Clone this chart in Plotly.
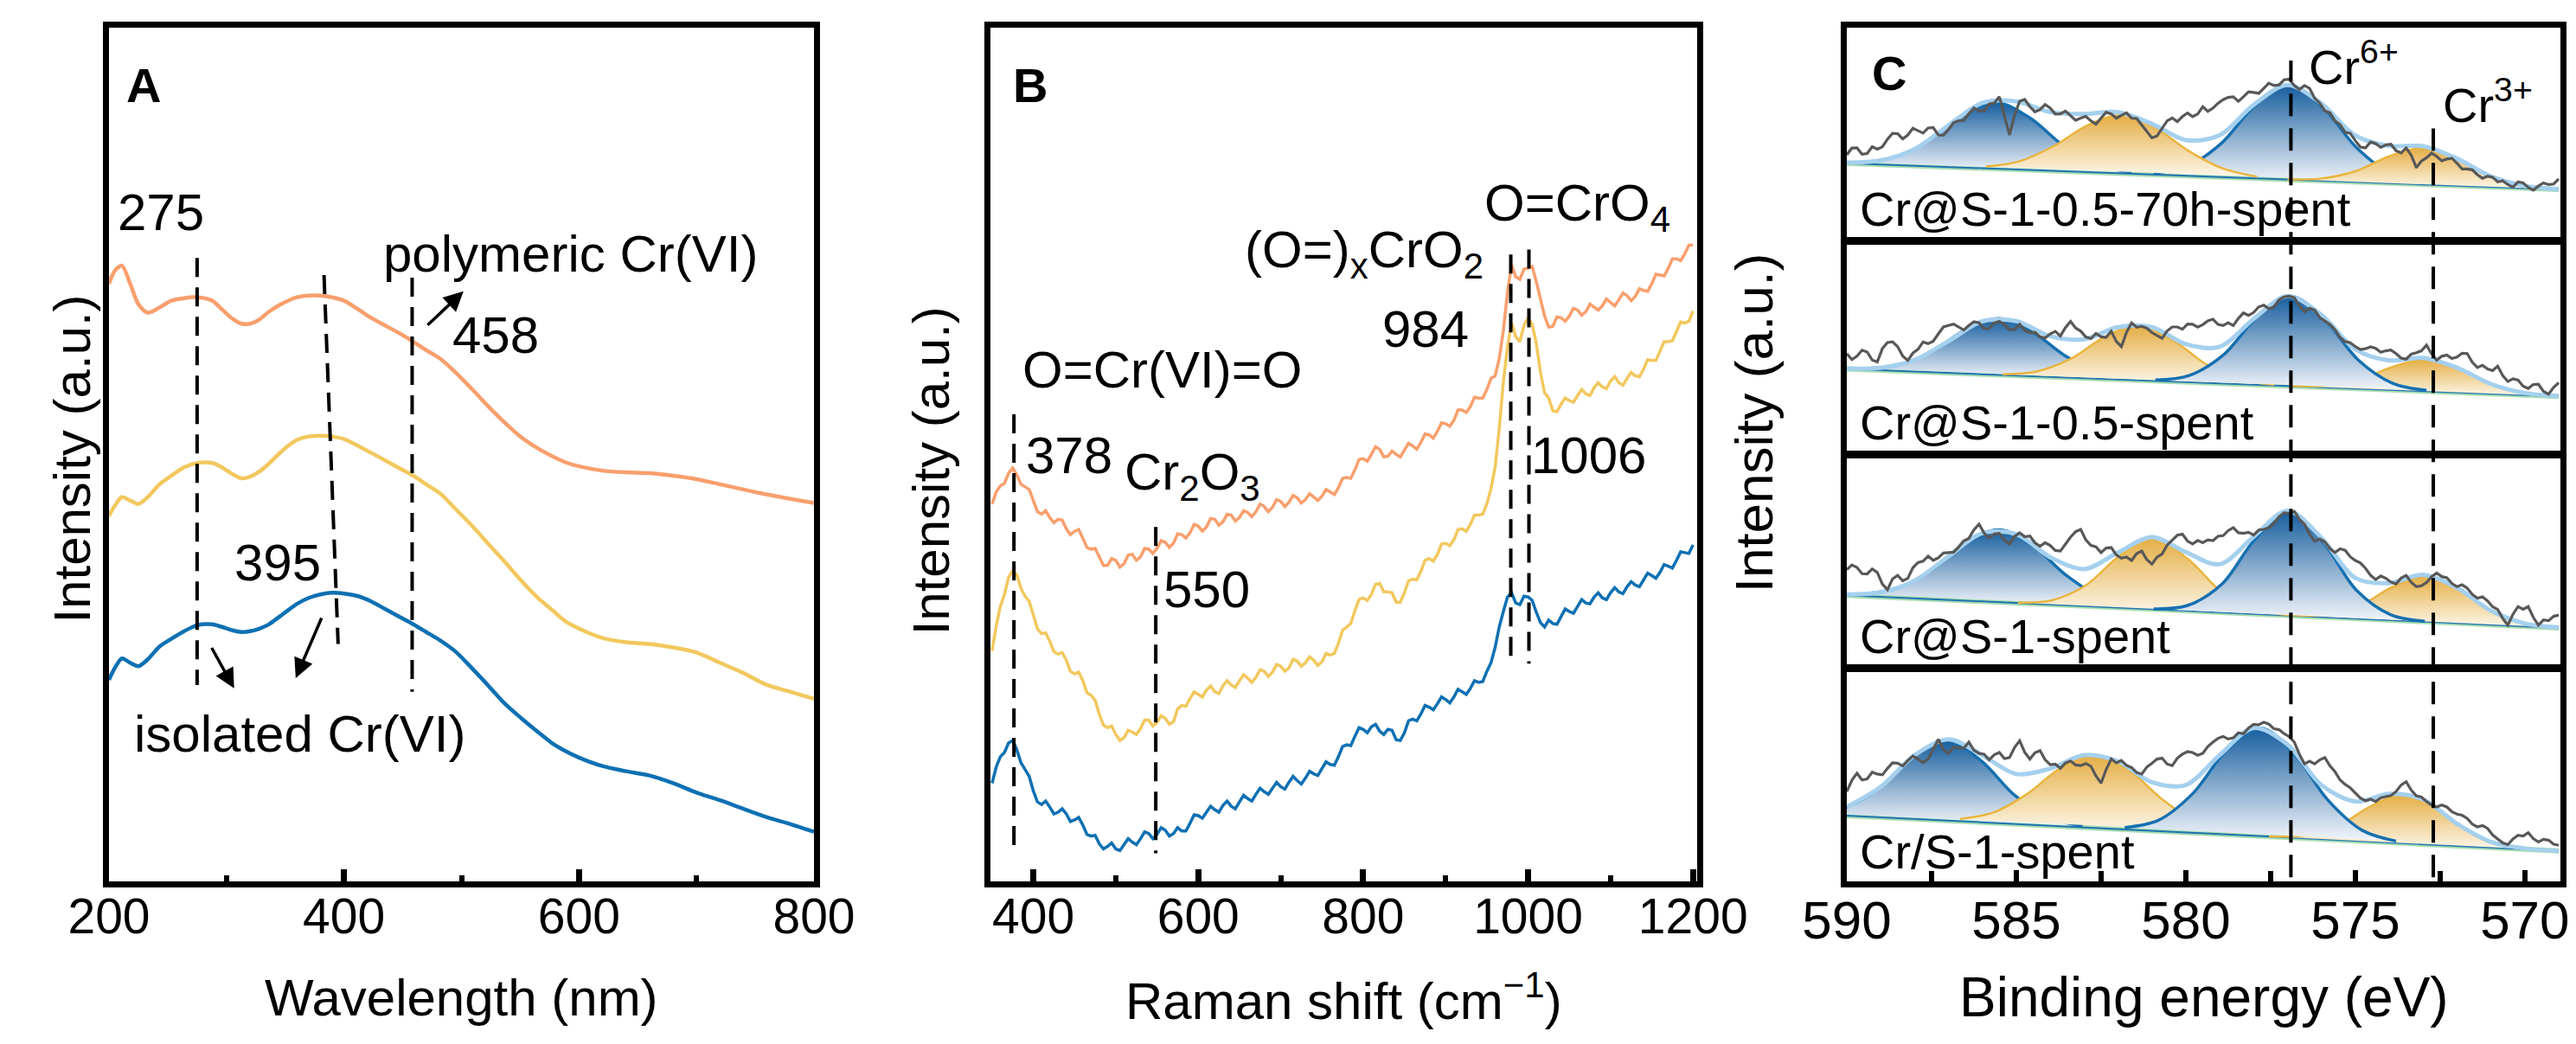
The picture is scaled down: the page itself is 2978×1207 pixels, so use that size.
import plotly.graph_objects as go

# ---------------- panel A : UV-vis ----------------
uv_wavelength = [200, 205, 211, 218, 225, 233, 243, 253, 264, 275,
                 288, 296, 305, 313, 320, 328, 336, 348, 360, 370,
                 380, 390, 400, 412, 423, 435, 447, 459, 470, 482,
                 495, 510, 523, 537, 551, 565, 577, 588, 600, 620,
                 640, 660, 680, 700, 720, 740, 760, 780, 800]
uv_orange = [70.0, 71.5, 72.1, 70.0, 67.6, 66.6, 67.2, 68.0, 68.3, 68.4,
             68.0, 67.0, 65.9, 65.3, 65.3, 65.8, 66.7, 67.7, 68.4, 68.6,
             68.6, 68.4, 68.0, 67.0, 66.0, 65.1, 64.2, 63.2, 62.2, 61.2,
             59.6, 57.5, 55.6, 53.7, 52.0, 50.7, 49.8, 49.1, 48.6, 48.1,
             47.9, 47.8, 47.5, 47.1, 46.5, 45.9, 45.3, 44.8, 44.3]
uv_yellow = [42.8, 44.0, 45.0, 44.6, 44.2, 45.0, 46.5, 47.5, 48.5, 49.0,
             49.0, 48.5, 47.7, 47.2, 47.4, 48.0, 48.9, 50.5, 51.7, 52.1,
             52.2, 52.1, 51.8, 51.0, 50.2, 49.3, 48.4, 47.5, 46.5, 45.4,
             43.6, 41.5, 39.5, 37.4, 35.2, 33.2, 31.8, 30.5, 29.6, 28.5,
             28.0, 27.8, 27.4, 26.8, 25.6, 24.4, 23.0, 22.2, 21.4]
uv_blue = [23.6, 25.0, 26.1, 25.6, 25.2, 26.0, 27.5, 28.4, 29.3, 30.0,
           30.1, 29.8, 29.4, 29.2, 29.3, 29.6, 30.1, 31.3, 32.5, 33.2,
           33.6, 33.8, 33.7, 33.4, 32.8, 31.9, 31.0, 30.1, 29.2, 28.2,
           26.9, 24.8, 22.9, 20.8, 19.1, 17.5, 16.2, 15.3, 14.5, 13.5,
           12.9, 12.4, 11.5, 10.4, 9.5, 8.5, 7.5, 6.7, 5.8]
# guide lines: x top, x bottom, y top, y bottom
uv_guides = [(275, 275, 73.0, 23.0), (383, 395, 71.0, 27.8), (458, 458, 70.7, 22.2)]

# ---------------- panel B : Raman ----------------
raman_shift = list(range(350, 1201, 5))
raman_orange = [44.2, 45.6, 46.3, 46.6, 47.8, 48.4, 47.6, 46.5, 46.2, 45.9,
                44.6, 43.3, 43.0, 43.4, 42.6, 42.0, 42.4, 42.3, 41.3, 40.6,
                41.0, 41.2, 40.2, 39.1, 38.9, 39.0, 38.0, 37.0, 37.0, 37.8,
                37.6, 36.8, 37.2, 38.2, 38.3, 37.6, 38.0, 39.0, 38.9, 38.4,
                39.0, 39.9, 39.7, 39.1, 39.6, 40.7, 40.6, 40.2, 40.8, 41.8,
                41.6, 41.0, 41.5, 42.5, 42.4, 41.7, 42.1, 43.0, 42.9, 42.2,
                42.6, 43.4, 43.2, 42.7, 43.3, 44.2, 43.9, 43.3, 43.8, 44.7,
                44.5, 43.9, 44.4, 45.2, 44.9, 44.3, 44.7, 45.4, 45.0, 44.6,
                45.1, 45.9, 45.6, 45.3, 46.1, 47.2, 47.3, 47.2, 48.2, 49.4,
                49.5, 49.2, 50.0, 50.9, 50.6, 49.7, 49.8, 50.4, 50.0, 49.7,
                50.5, 51.3, 51.0, 50.6, 51.4, 52.4, 52.3, 51.9, 52.7, 53.7,
                53.6, 53.3, 54.0, 55.2, 55.2, 54.9, 55.6, 56.7, 56.6, 56.6,
                57.6, 58.9, 59.2, 61.2, 64.5, 69.0, 72.2, 70.8, 70.5, 71.7,
                71.8, 72.0, 70.2, 68.0, 66.2, 64.9, 65.0, 66.1, 66.0, 65.6,
                66.2, 67.1, 66.9, 66.3, 66.7, 67.6, 67.3, 66.9, 67.4, 68.2,
                67.8, 67.4, 68.1, 68.9, 68.6, 68.0, 68.5, 69.4, 69.2, 69.1,
                70.0, 71.1, 71.0, 70.9, 71.8, 72.9, 72.9, 72.7, 73.5, 74.5,
                74.5]
raman_yellow = [27.0, 29.9, 32.2, 33.6, 35.6, 36.4, 35.9, 34.3, 33.4, 32.8,
                31.2, 29.6, 29.0, 29.1, 28.1, 26.9, 26.6, 26.8, 25.9, 24.6,
                24.3, 24.5, 23.5, 22.1, 21.8, 21.2, 19.6, 18.3, 18.0, 18.2,
                17.2, 16.5, 16.8, 17.7, 17.5, 17.2, 17.9, 18.9, 18.9, 18.2,
                18.6, 19.4, 19.1, 18.4, 18.7, 20.2, 20.6, 20.5, 21.4, 22.2,
                21.9, 21.6, 22.4, 22.9, 22.2, 22.0, 22.9, 23.5, 23.0, 22.7,
                23.5, 24.2, 23.8, 23.3, 23.9, 24.8, 24.6, 24.0, 24.5, 25.4,
                25.2, 24.6, 25.0, 26.0, 25.8, 25.2, 25.6, 26.3, 25.9, 25.3,
                25.7, 26.7, 26.5, 26.7, 27.9, 29.4, 29.8, 30.2, 31.7, 33.0,
                33.2, 32.9, 33.6, 34.8, 34.9, 33.9, 33.9, 33.8, 32.7, 32.7,
                33.8, 35.2, 35.4, 35.3, 36.3, 37.6, 37.8, 37.5, 38.3, 39.5,
                39.6, 39.3, 40.0, 41.2, 41.3, 41.0, 41.8, 42.9, 42.9, 43.0,
                44.2, 46.0, 48.5, 53.0, 58.5, 62.6, 65.4, 63.8, 63.2, 65.1,
                66.0, 65.2, 63.0, 59.6, 57.2, 56.6, 55.1, 55.0, 55.9, 56.6,
                56.3, 56.1, 56.9, 57.6, 57.1, 56.9, 57.8, 58.4, 57.9, 57.7,
                58.6, 59.1, 58.4, 58.1, 58.9, 59.6, 59.2, 59.1, 60.0, 61.1,
                61.0, 61.0, 62.1, 63.2, 63.2, 63.3, 64.4, 65.5, 65.4, 65.6,
                66.8]
raman_blue = [11.5, 13.4, 14.6, 15.1, 16.2, 16.5, 15.4, 13.9, 13.1, 12.3,
              10.6, 9.3, 9.0, 9.4, 8.7, 7.9, 8.1, 8.5, 7.9, 7.0,
              7.2, 7.5, 6.6, 5.5, 5.3, 5.4, 4.4, 3.8, 4.1, 4.5,
              3.8, 3.6, 4.3, 5.0, 4.6, 4.3, 5.0, 5.8, 5.6, 5.0,
              5.5, 6.3, 6.0, 5.3, 5.6, 6.3, 5.9, 5.9, 6.8, 7.8,
              7.7, 7.4, 8.1, 8.8, 8.4, 8.1, 8.9, 9.4, 8.8, 8.5,
              9.3, 10.1, 9.7, 9.4, 10.2, 10.9, 10.5, 10.2, 10.9, 11.6,
              11.1, 10.8, 11.6, 12.3, 11.8, 11.4, 12.1, 12.9, 12.6, 12.4,
              13.2, 14.0, 13.7, 13.6, 14.6, 15.8, 16.0, 15.9, 17.0, 18.0,
              17.8, 17.4, 18.1, 18.4, 17.6, 17.2, 17.8, 17.7, 16.6, 16.5,
              17.4, 18.8, 19.0, 18.8, 19.6, 20.6, 20.4, 20.1, 20.8, 21.6,
              21.3, 20.9, 21.6, 22.5, 22.2, 21.9, 22.6, 23.5, 23.3, 23.4,
              24.6, 25.6, 27.4, 29.8, 31.6, 33.3, 33.8, 32.6, 32.4, 33.4,
              33.3, 32.9, 31.5, 30.3, 29.8, 30.6, 30.2, 30.1, 31.0, 31.9,
              31.6, 31.4, 32.2, 33.0, 32.6, 32.5, 33.3, 33.8, 33.2, 33.0,
              33.8, 34.4, 33.9, 33.7, 34.5, 35.1, 34.7, 34.5, 35.3, 36.1,
              35.8, 35.5, 36.2, 37.1, 36.9, 36.7, 37.6, 38.6, 38.5, 38.4,
              39.4]
raman_guides = [(376.5, 54.7, 3.3), (548.5, 41.5, 3.3), (979, 73.4, 25.5), (1001, 74.0, 25.5)]

# ---------------- panel C : XPS Cr 2p ----------------
xps_energy = [round(590 - 0.15 * i, 2) for i in range(141)]
fit_energy = list(range(590, 568, -1))
samples = ["Cr@S-1-0.5-70h-spent", "Cr@S-1-0.5-spent", "Cr@S-1-spent", "Cr/S-1-spent"]

c1_raw = [39.7, 42.9, 43.0, 40.0, 40.3, 43.6, 42.4, 43.5, 47.1, 49.9,
          49.7, 47.2, 49.1, 52.3, 51.1, 50.0, 52.4, 52.6, 49.1, 49.0,
          51.7, 54.9, 55.8, 56.0, 59.1, 61.9, 60.5, 60.3, 63.8, 64.2,
          67.2, 58.0, 49.1, 58.6, 65.1, 65.9, 62.5, 60.0, 61.1, 63.5,
          61.8, 59.0, 59.1, 60.4, 58.4, 56.0, 57.1, 57.9, 55.8, 54.2,
          57.1, 59.8, 59.1, 57.0, 58.4, 59.6, 57.1, 56.9, 53.8, 50.9,
          47.7, 48.6, 52.4, 55.8, 57.1, 55.4, 57.8, 59.5, 57.8, 59.0,
          62.5, 60.3, 61.8, 64.1, 65.8, 66.9, 67.2, 65.0, 67.2, 69.5,
          69.2, 68.8, 71.2, 73.6, 72.5, 72.8, 75.2, 75.5, 72.5, 70.6,
          72.5, 71.2, 66.5, 64.2, 60.5, 59.6, 55.8, 54.0, 50.4, 49.9,
          46.4, 43.4, 43.0, 45.8, 45.0, 43.2, 44.4, 44.7, 41.7, 40.6,
          43.0, 39.5, 33.6, 36.8, 38.3, 40.5, 39.0, 36.9, 37.7, 38.1,
          35.7, 33.0, 33.0, 32.6, 30.3, 28.6, 29.6, 29.1, 26.9, 27.4,
          25.6, 24.4, 26.9, 26.4, 24.3, 23.0, 24.9, 26.4, 25.6, 25.9,
          28.3]
c1_env = [36.0, 37.1, 42.4, 53.6, 64.3, 65.0, 59.9, 59.0, 59.9, 54.4, 46.7,
          49.0, 63.3, 72.8, 63.9, 48.8, 43.9, 43.8, 37.9, 29.5, 25.0, 23.4]
c1_base = [35.7, 23.3]
c1_b1_x = [581.6, 582.6, 583.6, 584.6, 585.6, 586.6, 587.6, 588.6, 589.6]
c1_b1_y = [31.4, 35.0, 43.9, 57.2, 64.5, 58.4, 46.3, 38.5, 36.1]
c1_y1_x = [577.9, 578.9, 579.9, 580.9, 581.9, 582.9, 583.9, 584.9, 585.9]
c1_y1_y = [29.4, 33.2, 41.4, 52.5, 58.4, 53.7, 43.8, 36.7, 34.2]
c1_b2_x = [572.95, 573.95, 574.95, 575.95, 576.95, 577.95, 578.95, 579.95, 580.95]
c1_b2_y = [26.4, 30.7, 42.9, 61.9, 72.5, 63.1, 45.2, 34.3, 31.1]
c1_y2_x = [569, 570, 571, 572, 573, 574, 575, 576, 577]
c1_y2_y = [23.4, 25.0, 29.5, 37.8, 43.0, 39.0, 31.9, 28.5, 28.1]

c2_raw = [47.2, 44.3, 45.9, 48.8, 47.9, 44.1, 43.2, 49.6, 52.5, 52.8,
          50.5, 46.0, 43.9, 47.4, 49.2, 52.7, 51.9, 53.1, 56.6, 59.9,
          60.6, 61.3, 59.9, 58.4, 60.6, 62.4, 61.9, 59.0, 59.2, 61.8,
          62.6, 60.9, 58.6, 58.7, 61.2, 58.3, 57.2, 57.4, 55.2, 54.6,
          56.6, 57.8, 55.6, 59.6, 62.6, 59.4, 57.9, 55.1, 54.3, 56.8,
          55.2, 54.9, 57.9, 53.0, 50.5, 57.3, 61.9, 59.8, 60.2, 59.3,
          57.2, 55.9, 54.5, 58.0, 59.9, 59.9, 58.8, 61.3, 61.2, 59.8,
          61.0, 62.8, 63.6, 61.1, 60.6, 61.9, 60.6, 64.0, 66.6, 65.4,
          66.8, 69.5, 70.3, 68.6, 69.5, 72.8, 74.3, 74.6, 73.9, 70.0,
          67.2, 68.9, 67.9, 64.4, 62.8, 61.2, 58.6, 55.0, 52.9, 52.4,
          50.5, 49.1, 49.5, 50.4, 49.7, 47.8, 48.5, 48.9, 47.2, 45.0,
          44.5, 46.9, 47.6, 48.5, 51.2, 47.0, 44.1, 45.9, 46.5, 44.8,
          45.5, 47.3, 47.2, 43.0, 40.5, 41.6, 39.8, 39.0, 41.2, 36.6,
          33.8, 35.1, 34.5, 31.6, 30.5, 32.4, 32.5, 29.1, 27.8, 31.0,
          33.2]
c2_env = [40.0, 40.4, 44.1, 53.1, 62.6, 62.7, 55.5, 54.0, 59.8, 59.8, 51.7,
          50.4, 63.7, 74.7, 65.7, 49.2, 43.9, 45.1, 40.4, 32.6, 28.3, 26.8]
c2_base = [39.8, 26.7]
c2_b1_x = [581.5, 582.5, 583.5, 584.5, 585.5, 586.5, 587.5, 588.5, 589.5]
c2_b1_y = [35.0, 37.8, 45.5, 57.2, 63.9, 58.5, 48.0, 41.6, 40.0]
c2_y1_x = [577.4, 578.4, 579.4, 580.4, 581.4, 582.4, 583.4, 584.4, 585.4]
c2_y1_y = [32.3, 34.9, 42.1, 53.8, 60.6, 55.1, 44.6, 38.6, 37.3]
c2_b2_x = [572.9, 573.9, 574.9, 575.9, 576.9, 577.9, 578.9, 579.9, 580.9]
c2_b2_y = [29.6, 33.0, 43.9, 63.2, 74.6, 64.5, 46.4, 36.7, 34.6]
c2_y2_x = [569.0, 569.9, 570.9, 571.9, 572.9, 573.9, 574.9, 575.9, 576.9]
c2_y2_y = [26.8, 28.1, 32.0, 39.6, 44.5, 40.8, 34.5, 31.8, 31.7]

c3_raw = [45.9, 48.2, 47.0, 44.0, 43.9, 46.3, 44.6, 39.0, 36.4, 41.5,
          43.2, 40.6, 41.8, 46.9, 49.3, 50.0, 52.4, 50.4, 51.6, 53.9,
          54.1, 54.3, 56.8, 59.7, 60.9, 65.0, 67.7, 63.4, 61.1, 63.0,
          63.3, 59.9, 58.2, 61.8, 63.6, 61.7, 62.0, 58.8, 57.1, 58.8,
          57.5, 55.1, 54.8, 58.4, 61.5, 64.1, 65.2, 60.2, 57.5, 56.9,
          54.1, 56.3, 56.5, 53.0, 51.4, 52.0, 50.3, 53.6, 54.8, 50.7,
          48.6, 51.9, 53.4, 57.7, 60.2, 62.4, 62.9, 59.6, 58.2, 59.9,
          58.8, 60.2, 59.8, 61.9, 62.2, 64.6, 66.0, 63.6, 63.3, 63.8,
          62.5, 64.9, 65.2, 66.0, 67.9, 71.3, 73.1, 72.8, 73.8, 70.0,
          67.7, 62.9, 59.5, 60.6, 59.2, 56.0, 54.1, 55.9, 55.2, 52.1,
          50.3, 49.1, 46.6, 43.2, 41.2, 42.9, 41.8, 40.0, 39.1, 41.9,
          43.2, 39.9, 37.8, 38.2, 39.8, 42.6, 44.3, 42.6, 42.1, 39.3,
          37.8, 38.7, 37.1, 34.1, 32.3, 32.9, 31.0, 28.2, 26.9, 22.6,
          19.4, 24.6, 28.3, 27.0, 28.3, 23.1, 19.4, 21.9, 21.5, 23.6,
          24.2]
c3_env = [34.1, 35.1, 40.6, 52.3, 63.4, 62.9, 51.9, 46.2, 54.1, 61.5, 54.3,
          48.5, 61.7, 74.1, 61.2, 42.0, 39.5, 43.5, 37.3, 26.3, 20.2, 18.3]
c3_base = [33.7, 18.1]
c3_b1_x = [581.5, 582.5, 583.5, 584.5, 585.5, 586.5, 587.5, 588.5, 589.5]
c3_b1_y = [28.3, 32.6, 42.9, 57.2, 65.0, 58.7, 45.8, 37.1, 34.3]
c3_y1_x = [576.95, 577.95, 578.95, 579.95, 580.95, 581.95, 582.95, 583.95, 584.95]
c3_y1_y = [24.2, 26.9, 35.4, 51.2, 60.9, 52.6, 38.4, 31.3, 30.2]
c3_b2_x = [572.95, 573.95, 574.95, 575.95, 576.95, 577.95, 578.95, 579.95, 580.95]
c3_b2_y = [21.3, 24.3, 35.8, 59.1, 73.8, 60.6, 38.8, 28.8, 27.2]
c3_y2_x = [569.0, 569.9, 570.9, 571.9, 572.9, 573.9, 574.9, 575.9, 576.9]
c3_y2_y = [18.3, 19.9, 25.4, 36.2, 43.2, 37.7, 28.4, 24.4, 24.1]

c4_raw = [42.5, 47.9, 51.2, 48.0, 48.5, 51.7, 50.8, 50.4, 53.5, 56.1,
          55.9, 54.6, 57.2, 59.4, 57.9, 56.3, 57.9, 62.8, 67.2, 62.4,
          60.6, 63.5, 63.2, 63.0, 65.9, 62.1, 60.6, 60.2, 57.5, 59.9,
          61.0, 58.1, 58.6, 63.4, 66.6, 61.0, 57.9, 60.9, 61.9, 57.6,
          55.2, 55.5, 53.5, 56.0, 57.0, 55.1, 54.8, 55.8, 54.5, 49.9,
          46.5, 52.9, 57.9, 56.1, 57.2, 54.9, 53.9, 51.5, 50.8, 54.1,
          55.9, 57.9, 58.3, 55.5, 54.8, 58.3, 60.2, 61.4, 61.0, 59.7,
          60.6, 63.8, 65.9, 67.7, 68.6, 67.4, 67.9, 70.3, 69.9, 72.6,
          74.3, 74.1, 75.3, 74.4, 72.2, 71.8, 69.9, 68.5, 65.9, 60.2,
          55.6, 56.9, 55.6, 57.5, 58.6, 54.7, 51.9, 48.0, 45.9, 44.3,
          41.8, 39.4, 38.2, 38.9, 37.8, 39.5, 40.1, 40.6, 42.5, 45.6,
          47.2, 43.2, 40.5, 39.9, 37.8, 36.1, 35.2, 36.1, 35.2, 33.0,
          31.8, 31.3, 29.8, 27.1, 25.8, 26.4, 25.1, 22.0, 20.1, 18.2,
          17.4, 20.1, 21.8, 21.5, 23.1, 20.2, 18.7, 19.9, 19.5, 17.6,
          17.1]
c4_env = [35.2, 44.7, 59.7, 67.2, 59.7, 50.8, 53.4, 59.8, 56.8, 46.9, 45.6,
          59.8, 72.6, 64.8, 45.6, 37.8, 41.4, 38.8, 27.3, 18.7, 15.6, 14.4]
c4_base = [31.1, 14.4]
c4_b1_x = [583.05, 584.05, 585.05, 586.05, 587.05, 588.05, 589.05, 590.05, 591.05]
c4_b1_y = [26.2, 30.2, 40.8, 57.3, 66.6, 58.9, 44.0, 35.0, 32.6]
c4_y1_x = [578.66, 579.66, 580.66, 581.66, 582.66, 583.66, 584.66, 585.66, 586.66]
c4_y1_y = [23.2, 27.9, 38.4, 52.4, 59.9, 54.0, 41.6, 32.7, 29.6]
c4_b2_x = [573.8, 574.8, 575.8, 576.8, 577.8, 578.8, 579.8, 580.8, 581.8]
c4_b2_y = [19.1, 24.2, 38.3, 60.3, 72.6, 61.9, 41.5, 29.0, 25.5]
c4_y2_x = [569.55, 570.55, 571.55, 572.55, 573.55, 574.55, 575.55, 576.55, 577.55]
c4_y2_y = [15.0, 16.8, 22.6, 33.9, 41.2, 35.5, 25.8, 21.6, 21.3]

cr6_pos = 576.9
cr3_pos = 572.7

# ---------------- styling ----------------
FONT = "Liberation Sans, Arial, sans-serif"
ORANGE = "#F89F6D"
YELLOW = "#F2C85E"
BLUE = "#0E70B3"
BLUE_SCALE = [[0, "#F3F6FB"], [1, "#175E9E"]]
GOLD_SCALE = [[0, "#FDF7EA"], [1, "#E4AE44"]]

W, H = 2978, 1207
frame_top = 1 - 31.7 / H
frame_bot = 1 - 1019 / H
dom_a = [126 / W, 941 / W]
dom_b = [1145 / W, 1962 / W]
dom_c = [2135 / W, 2960 / W]

fig = go.Figure()

# panel A
for ys, col in [(uv_orange, ORANGE), (uv_yellow, YELLOW), (uv_blue, BLUE)]:
    fig.add_trace(go.Scatter(x=uv_wavelength, y=ys, mode="lines", xaxis="x", yaxis="y",
                             line=dict(color=col, width=4.5, shape="spline", smoothing=0.8)))

# panel B
for ys, col in [(raman_orange, ORANGE), (raman_yellow, YELLOW), (raman_blue, BLUE)]:
    fig.add_trace(go.Scatter(x=raman_shift, y=ys, mode="lines", xaxis="x2", yaxis="y2",
                             line=dict(color=col, width=3.5)))

# panel C
xps = [
    (c1_raw, c1_env, c1_base, [("b", c1_b1_x, c1_b1_y), ("b", c1_b2_x, c1_b2_y),
                               ("g", c1_y1_x, c1_y1_y), ("g", c1_y2_x, c1_y2_y)]),
    (c2_raw, c2_env, c2_base, [("b", c2_b1_x, c2_b1_y), ("g", c2_y1_x, c2_y1_y),
                               ("g", c2_y2_x, c2_y2_y), ("b", c2_b2_x, c2_b2_y)]),
    (c3_raw, c3_env, c3_base, [("b", c3_b1_x, c3_b1_y), ("g", c3_y1_x, c3_y1_y),
                               ("g", c3_y2_x, c3_y2_y), ("b", c3_b2_x, c3_b2_y)]),
    (c4_raw, c4_env, c4_base, [("b", c4_b1_x, c4_b1_y), ("g", c4_y1_x, c4_y1_y),
                               ("g", c4_y2_x, c4_y2_y), ("b", c4_b2_x, c4_b2_y)]),
]
for i, (raw, env, base, comps) in enumerate(xps):
    xa, ya = "x%d" % (i + 3), "y%d" % (i + 3)
    fig.add_trace(go.Scatter(x=[590, 569], y=base, mode="lines", xaxis=xa, yaxis=ya,
                             line=dict(color="#A8DDB2", width=6)))
    fig.add_trace(go.Scatter(x=[590, 569], y=base, mode="lines", xaxis=xa, yaxis=ya,
                             line=dict(color="#1F73B0", width=2)))
    for kind, cx, cy in comps:
        if kind == "b":
            lc, cs, lw = "#1670B0", BLUE_SCALE, 3.5
        else:
            lc, cs, lw = "#E9B53F", GOLD_SCALE, 2.5
        fig.add_trace(go.Scatter(x=cx, y=cy, mode="lines", xaxis=xa, yaxis=ya, fill="toself",
                                 fillgradient=dict(type="vertical", colorscale=cs),
                                 line=dict(color=lc, width=lw, shape="spline", smoothing=1.0)))
    fig.add_trace(go.Scatter(x=fit_energy, y=env, mode="lines", xaxis=xa, yaxis=ya,
                             line=dict(color="#A5D0EE", width=5, shape="spline", smoothing=0.9)))
    fig.add_trace(go.Scatter(x=xps_energy, y=raw, mode="lines", xaxis=xa, yaxis=ya,
                             line=dict(color="#585858", width=3.2)))

# ---------------- axes ----------------
frame = dict(showline=True, linecolor="black", linewidth=7, mirror=True,
             showgrid=False, zeroline=False, automargin=False)
noticks = dict(ticks="", showticklabels=False)
tickfont_ab = dict(family=FONT, size=57, color="black")
tickfont_c = dict(family=FONT, size=62, color="black")

layout = dict(
    width=W, height=H, margin=dict(l=0, r=0, t=0, b=0),
    paper_bgcolor="white", plot_bgcolor="white", showlegend=False,
    font=dict(family=FONT, color="black"),
    xaxis=dict(**frame, domain=dom_a, anchor="y", range=[200, 800], tick0=200, dtick=200,
               ticks="inside", ticklen=14, tickwidth=7, tickcolor="black", tickfont=tickfont_ab,
               ticklabelstandoff=-15,
               minor=dict(ticks="inside", dtick=100, tick0=200, ticklen=7, tickwidth=6,
                          tickcolor="black")),
    yaxis=dict(**frame, **noticks, domain=[frame_bot, frame_top], anchor="x", range=[0, 100]),
    xaxis2=dict(**frame, domain=dom_b, anchor="y2", range=[348, 1205], tick0=400, dtick=200,
                ticks="inside", ticklen=14, tickwidth=7, tickcolor="black", tickfont=tickfont_ab,
                ticklabelstandoff=-15,
                minor=dict(ticks="inside", dtick=100, tick0=400, ticklen=7, tickwidth=6,
                           tickcolor="black")),
    yaxis2=dict(**frame, **noticks, domain=[frame_bot, frame_top], anchor="x2", range=[0, 100]),
)
gap = 0.0021
step = (frame_top - frame_bot) / 4
for i in range(4):
    top = frame_top - i * step
    bot = frame_top - (i + 1) * step
    d = [bot + (gap if i < 3 else 0), top - (gap if i > 0 else 0)]
    xa = dict(**frame, domain=dom_c, anchor="y%d" % (i + 3), range=[590, 568.95])
    if i == 3:
        xa.update(tick0=590, dtick=5, ticks="inside", ticklen=13, tickwidth=6,
                  tickcolor="black", tickfont=tickfont_c, ticklabelstandoff=-15,
                  minor=dict(ticks="inside", dtick=2.5, tick0=590, ticklen=12, tickwidth=6,
                             tickcolor="black"))
    else:
        xa.update(noticks)
    layout["xaxis%d" % (i + 3)] = xa
    layout["yaxis%d" % (i + 3)] = dict(**frame, **noticks, domain=d, anchor="x%d" % (i + 3),
                                       range=[0, 100])
fig.update_layout(**layout)

# ---------------- guide lines ----------------
for x0, x1, y0, y1 in uv_guides:
    fig.add_shape(type="line", xref="x", yref="y", x0=x0, x1=x1, y0=y0, y1=y1,
                  line=dict(color="black", width=4, dash="22px,12px"))
for xg, y0, y1 in raman_guides:
    fig.add_shape(type="line", xref="x2", yref="y2", x0=xg, x1=xg, y0=y0, y1=y1,
                  line=dict(color="black", width=4, dash="22px,12px"))
for xg, ytop in [(cr6_pos, 0.942), (cr3_pos, 0.877)]:
    fig.add_shape(type="line", xref="x6", yref="paper", x0=xg, x1=xg, y0=frame_bot + 0.004,
                  y1=ytop, line=dict(color="black", width=4, dash="26px,14px"))

# ---------------- text ----------------
def note(text, x, y, xr, yr, size=60, xanchor="center", yanchor="middle"):
    fig.add_annotation(text=text, x=x, y=y, xref=xr, yref=yr, showarrow=False,
                       xanchor=xanchor, yanchor=yanchor,
                       font=dict(family=FONT, size=size, color="black"))

note("<b>A</b>", 229.7, 93.2, "x", "y", size=56)
note("275", 243.8, 78.3, "x", "y")
note("polymeric Cr(VI)", 593, 73.5, "x", "y")
note("458", 529, 64.0, "x", "y")
note("395", 343.5, 37.3, "x", "y")
note("isolated Cr(VI)", 362.6, 17.3, "x", "y")
for hx, hy, tx, ty in [(501.7, 69.1, 470.1, 65.0), (306.5, 22.6, 286.8, 27.5),
                       (358.9, 23.8, 381.4, 31.0)]:
    fig.add_annotation(x=hx, y=hy, ax=tx, ay=ty, xref="x", yref="y", axref="x", ayref="y",
                       text="", showarrow=True, arrowhead=2, arrowsize=1.3, arrowwidth=3.5,
                       arrowcolor="black", standoff=0)

note("<b>B</b>", 396.6, 93.2, "x2", "y2", size=56)
note("O=Cr(VI)=O", 556, 59.9, "x2", "y2")
note("378", 443.5, 49.9, "x2", "y2")
note("Cr<sub>2</sub>O<sub>3</sub>", 593.3, 47.5, "x2", "y2")
note("550", 610.7, 34.2, "x2", "y2")
note("(O=)<sub>x</sub>CrO<sub>2</sub>", 801.5, 73.5, "x2", "y2")
note("984", 875.6, 64.7, "x2", "y2")
note("O=CrO<sub>4</sub>", 1059.6, 79.0, "x2", "y2")
note("1006", 1073, 49.9, "x2", "y2")

note("<b>C</b>", 588.75, 78.5, "x3", "y3", size=56)
note("Cr<sup>6+</sup>", 576.43, 83, "x3", "y3", size=56, xanchor="left")
note("Cr<sup>3+</sup>", 572.46, 65, "x3", "y3", size=56, xanchor="left")
for i, name in enumerate(samples):
    note(name, 589.67, 14, "x%d" % (i + 3), "y%d" % (i + 3), size=56, xanchor="left")

# axis titles
xt = 1 - 1153 / H
note("Wavelength (nm)", sum(dom_a) / 2, xt, "paper", "paper", size=60)
note("Raman shift (cm<sup>\u22121</sup>)", sum(dom_b) / 2, xt, "paper", "paper", size=60)
note("Binding energy (eV)", sum(dom_c) / 2, xt, "paper", "paper", size=64)
for xp, yp, sz in [(48 / W, 0.56, 60), (1076 / W, 0.549, 60), (2064 / W, 0.595, 62)]:
    fig.add_annotation(text="Intensity (a.u.)", x=xp, y=yp, xref="paper", yref="paper",
                       showarrow=False, textangle=-90,
                       font=dict(family=FONT, size=sz, color="black"))

fig.write_html("out.html", config={"displayModeBar": False},
               post_script="document.body.style.margin='0';document.body.style.overflow='hidden';")
